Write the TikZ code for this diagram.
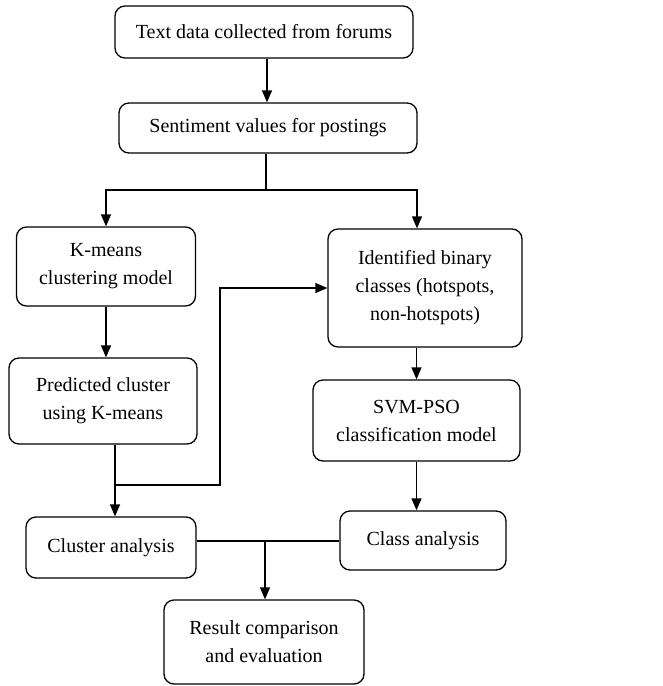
\documentclass[tikz,border=0pt]{standalone}
\usepackage{fontspec}
\setmainfont{Liberation Serif}
\usetikzlibrary{calc,arrows.meta}
\begin{document}
\begin{tikzpicture}[x=1pt, y=-1pt, line width=1.3pt, >={Triangle[length=12pt, width=10pt]},
  main node/.style={draw, rounded corners=10pt, align=center, font=\fontsize{20}{28}\selectfont}]
        \useasboundingbox (0,0) rectangle (662,686);

          \node[main node, minimum width=298pt, minimum height=52pt] (text) at (264,32) {Text data collected from forums};
          \node[main node, minimum width=298pt, minimum height=50pt] (senti) at (268,128) {Sentiment values for postings};
          \node[main node, minimum width=179pt, minimum height=79pt] (kmeans) at (106,266.5) {K-means\\clustering model};
          \node[main node, minimum width=188pt, minimum height=86pt] (pred) at (103,401) {Predicted cluster\\using K-means};
          \node[main node, minimum width=194pt, minimum height=118pt] (ident) at (425,288) {Identified binary\\classes (hotspots,\\non-hotspots)};
          \node[main node, minimum width=207pt, minimum height=81pt] (svm) at (416.5,420.5) {SVM-PSO\\classification model};
          \node[main node, minimum width=170pt, minimum height=61pt] (cluster) at (111,547.5) {Cluster analysis};
          \node[main node, minimum width=166pt, minimum height=59pt] (class) at (423,540.5) {Class analysis};
          \node[main node, minimum width=200pt, minimum height=84pt] (result) at (264,642) {Result comparison\\and evaluation};

          \coordinate (split) at (266,190);
          \coordinate (join) at (115,485);
          \coordinate (merge) at (265,541);

          \draw[->] ([xshift=3pt]text.south) -- ([xshift=3pt]text.south |- senti.north);
          \draw ([xshift=-2pt]senti.south) -- (split);
          \draw[->] (split) -| (kmeans.north);
          \draw[->] (split) -| ([xshift=-8pt]ident.north);
          \draw[->] (kmeans.south) -- (kmeans.south |- pred.north);
          \draw ([xshift=12pt]pred.south) -- (join);
          \draw[->] (join) -- (join |- cluster.north);
          \draw[->] (join) -- (220,485) |- (ident.west);
          \draw[->] (svm.north |- ident.south) -- (svm.north);
          \draw[->] (svm.south) -- (svm.south |- class.north);
          \draw (cluster.east |- merge) -- (merge) -- (class.west |- merge);
          \draw[->] (merge) -- (merge |- result.north);

        \end{tikzpicture}
\end{document}
